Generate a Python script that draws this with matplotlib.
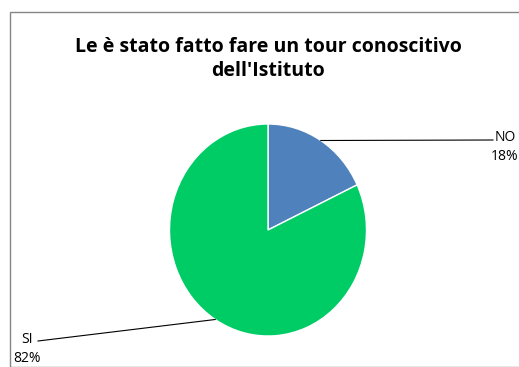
import numpy as np
import matplotlib.pyplot as plt
from matplotlib.patches import Rectangle

labels = ["NO", "SI"]
values = [18, 82]
colors = ["#4F81BD", "#00CC66"]
title = "Le è stato fatto fare un tour conoscitivo\ndell'Istituto"

W, H = 519, 367
fig = plt.figure(figsize=(W / 100, H / 100), dpi=100)
plt.rcParams['font.family'] = ['Open Sans', 'DejaVu Sans']

# pie centre and radii in pixels (slightly taller than wide)
cx, cy = 268, 230
rx, ry = 98.5, 106

ax = fig.add_axes([0, 0, 1, 1])


def px(x, y):
    return (x - cx) / rx, (cy - y) / ry


wedges, _ = ax.pie(values, colors=colors, startangle=90, counterclock=False,
                   wedgeprops=dict(edgecolor="white", linewidth=1))
ax.set_aspect('auto')
ax.set_xlim(-cx / rx, (W - cx) / rx)
ax.set_ylim(-(H - cy) / ry, cy / ry)
ax.axis('off')

# chart border
fig.patches.append(Rectangle((10 / W, 0), 1, 1 - 12 / H, transform=fig.transFigure,
                             fill=False, edgecolor="#868686", linewidth=1))

fig.text(268 / W, 1 - 59 / H, title, ha="center", va="center",
         fontsize=14, fontweight="bold", linespacing=1.3)

# leader lines from wedge mid-angle to the labels
label_pos = [(505, 147), (27, 349)]
line_end = [(493, 140), (38, 341)]
total = sum(values)
start = 0
for i, v in enumerate(values):
    mid = (start + v / 2) / total * 2 * np.pi
    start += v
    ax_x, ax_y = np.sin(mid), np.cos(mid)
    ex, ey = px(*line_end[i])
    ax.plot([ax_x, ex], [ax_y, ey], color="black", linewidth=0.8)
    lx, ly = px(*label_pos[i])
    ax.text(lx, ly, "%s\n%d%%" % (labels[i], values[i]), ha="center", va="center",
            fontsize=10, linespacing=1.3)

fig.savefig("out.png", dpi=100)
